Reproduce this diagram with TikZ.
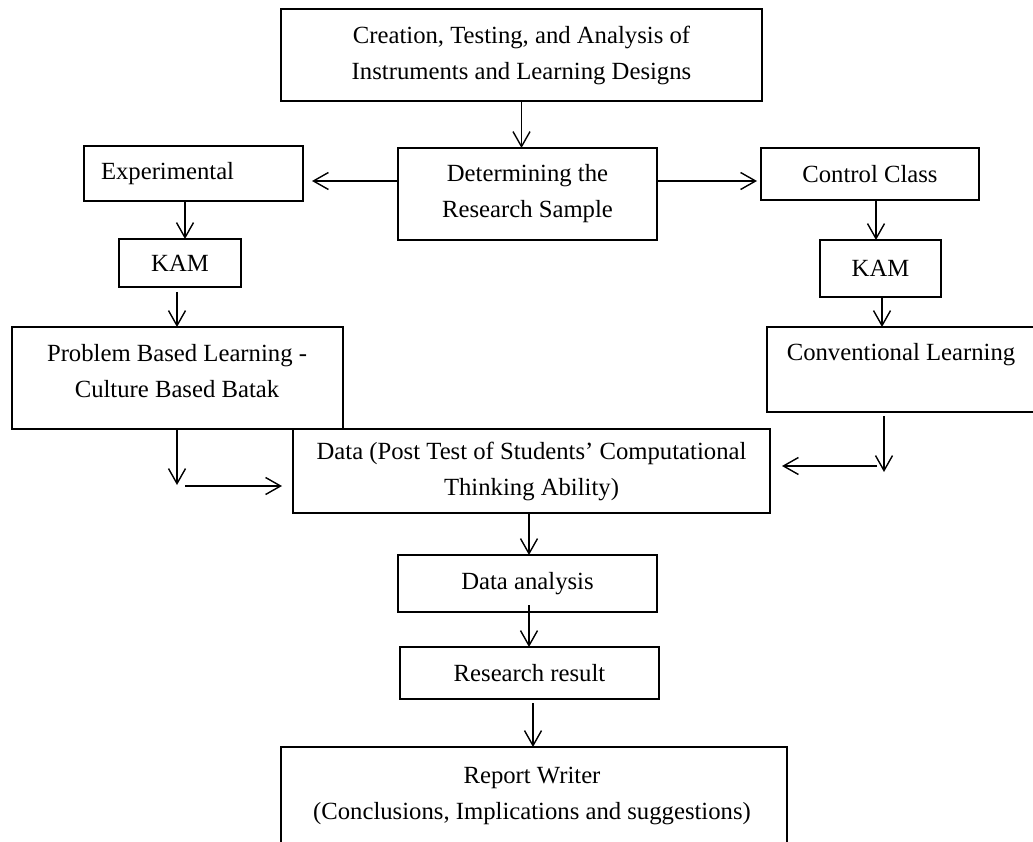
\documentclass[tikz,border=0pt]{standalone}
\usepackage{fontspec}
\setmainfont{Liberation Serif}
\usetikzlibrary{arrows.meta,calc}
\begin{document}
\begin{tikzpicture}[x=1pt,y=-1pt,
  box/.style={draw, line width=1.6pt, inner sep=0pt, outer sep=0pt, align=center, font=\fontsize{24.7}{36}\selectfont},
  txt/.style={inner sep=0pt, align=center, font=\fontsize{24.7}{36}\selectfont},
  arr/.style={line width=1.4pt, -{Straight Barb[length=15pt,width=17pt]}},
  ]
\useasboundingbox (0,0) rectangle (1033,842);
\clip (0,0) rectangle (1033,842);
\fill[white] (0,0) rectangle (1033,842);

\node[box, minimum width=481pt, minimum height=92pt] (top) at (521.5,55) {Creation, Testing, and Analysis of\\Instruments and Learning Designs};
\node[box, minimum width=259pt, minimum height=92pt] (det) at (527.5,194) {Determining the\\Research Sample};
\node[box, minimum width=219pt, minimum height=55pt, text width=185pt, align=left] (exp) at (193.5,173.5) {Experimental};
\node[box, minimum width=122pt, minimum height=48pt] (kamL) at (180,263) {KAM};
\node[box, minimum width=331pt, minimum height=102pt] (pbl) at (177.5,378) {};
\node[txt] (pblt) at (177,371.5) {Problem Based Learning -\\Culture Based Batak};
\node[box, minimum width=218pt, minimum height=52pt] (ctrl) at (870,174) {Control Class};
\node[box, minimum width=121pt, minimum height=57pt] (kamR) at (880.5,268.5) {KAM};
\node[box, minimum width=273pt, minimum height=85pt] (conv) at (903.5,369.5) {};
\node[txt] (convt) at (901,355) {Conventional Learning};
\node[box, minimum width=477pt, minimum height=84pt] (data) at (531.5,471) {Data (Post Test of Students' Computational\\Thinking Ability)};
\node[box, minimum width=259pt, minimum height=57pt] (da) at (527.5,583.5) {Data analysis};
\node[box, minimum width=259pt, minimum height=52pt] (rr) at (529.5,673) {Research result};
\node[box, minimum width=506pt, minimum height=110pt] (rep) at (534,802) {};
\node[txt] (rept) at (532,796) {Report Writer\\(Conclusions, Implications and suggestions)};

\draw[arr] (top.south) -- (top.south |- det.north);
\draw[arr, shorten >=9pt] ([yshift=13pt]det.west) -- ([yshift=13pt]det.west -| exp.east);
\draw[arr, shorten >=4pt] ([yshift=13pt]det.east) -- ([yshift=13pt]det.east -| ctrl.west);
\draw[arr] ([xshift=-8.5pt]exp.south) -- ([xshift=-8.5pt]exp.south |- kamL.north);
\draw[arr, shorten <=5pt] ([xshift=-3pt]kamL.south) -- ([xshift=-3pt]kamL.south |- pbl.north);
\coordinate (pd) at (177,485);
\coordinate (ph) at (185,486);
\draw[arr] (pbl.south -| pd) -- (pd);
\draw[arr, shorten >=11pt] (ph) -- (ph -| data.west);
\draw[arr] ([xshift=6pt]ctrl.south) -- ([xshift=6pt]ctrl.south |- kamR.north);
\draw[arr] ([xshift=1.5pt]kamR.south) -- ([xshift=1.5pt]kamR.south |- conv.north);
\coordinate (cd) at (884,472);
\coordinate (ch) at (877,466);
\draw[arr, shorten <=4pt] (conv.south -| cd) -- (cd);
\draw[arr, shorten >=12pt] (ch) -- (ch -| data.east);
\draw[arr] ([xshift=-2.5pt]data.south) -- ([xshift=-2.5pt]data.south |- da.north);
\draw[arr, shorten <=-7pt] ([xshift=1.5pt]da.south) -- ([xshift=1.5pt]da.south |- rr.north);
\draw[arr, shorten <=4pt] ([xshift=3.5pt]rr.south) -- ([xshift=3.5pt]rr.south |- rep.north);
\end{tikzpicture}
\end{document}
